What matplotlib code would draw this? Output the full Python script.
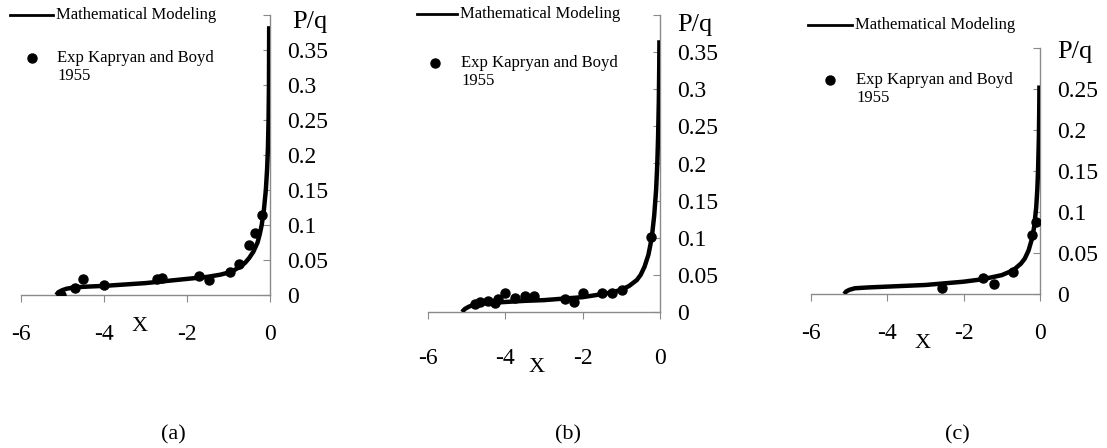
import matplotlib.pyplot as plt

# model curves
xa = [-5.15, -5.1, -5.0, -4.9, -4.7, -4.4, -4.0, -3.5, -3.0, -2.5, -2.0, -1.5, -1.2, -1.0,
      -0.85, -0.7, -0.6, -0.5, -0.4, -0.3, -0.25, -0.2, -0.15, -0.1, -0.07, -0.05, -0.035,
      -0.025, -0.02]
ya = [0.0, 0.004, 0.007, 0.009, 0.011, 0.012, 0.013, 0.015, 0.017, 0.020, 0.023, 0.026, 0.029,
      0.032, 0.036, 0.041, 0.046, 0.053, 0.062, 0.075, 0.086, 0.100, 0.120, 0.150, 0.180, 0.210,
      0.250, 0.300, 0.384]
xb = [-5.12, -5.05, -4.95, -4.8, -4.5, -4.0, -3.5, -3.0, -2.5, -2.0, -1.5, -1.2, -1.0, -0.8,
      -0.6, -0.5, -0.4, -0.3, -0.25, -0.2, -0.15, -0.1, -0.07, -0.05, -0.03, -0.02, -0.015]
yb = [0.0, 0.004, 0.007, 0.010, 0.012, 0.0135, 0.015, 0.016, 0.018, 0.020, 0.024, 0.027, 0.030,
      0.035, 0.043, 0.050, 0.061, 0.077, 0.090, 0.106, 0.130, 0.165, 0.200, 0.235, 0.285, 0.330,
      0.366]
xc = [-5.13, -5.08, -5.0, -4.85, -4.5, -4.0, -3.0, -2.0, -1.5, -1.0, -0.7, -0.5, -0.4, -0.3,
      -0.2, -0.15, -0.1, -0.07, -0.05, -0.03, -0.02, -0.015]
yc = [0.0, 0.003, 0.005, 0.007, 0.008, 0.009, 0.011, 0.015, 0.018, 0.023, 0.029, 0.037, 0.043,
      0.053, 0.069, 0.083, 0.105, 0.128, 0.152, 0.190, 0.225, 0.254]

# Kapryan and Boyd 1955 points
ea_x = [-5.04, -4.70, -4.5, -4.0, -2.73, -2.6, -1.71, -1.47, -0.96, -0.74, -0.5, -0.36, -0.19]
ea_y = [0.0, 0.010, 0.023, 0.014, 0.023, 0.025, 0.027, 0.022, 0.033, 0.044, 0.071, 0.089, 0.115]
eb_x = [-4.78, -4.65, -4.44, -4.26, -4.18, -4.0, -3.75, -3.49, -3.25, -2.45, -2.22, -1.98,
        -1.51, -1.23, -0.97, -0.23]
eb_y = [0.011, 0.014, 0.015, 0.0125, 0.018, 0.025, 0.019, 0.022, 0.022, 0.0175, 0.014, 0.025,
        0.025, 0.026, 0.030, 0.101]
ec_x = [-2.57, -1.5, -1.2, -0.72, -0.21, -0.1]
ec_y = [0.007, 0.020, 0.012, 0.027, 0.072, 0.088]

xticks = [-6, -4, -2, 0]
yticks_a = [0, 0.05, 0.1, 0.15, 0.2, 0.25, 0.3, 0.35, 0.4]
yticks_c = [0, 0.05, 0.1, 0.15, 0.2, 0.25, 0.3]

plt.rcParams['font.family'] = ['Liberation Serif', 'DejaVu Serif']

fig = plt.figure(figsize=(11.07, 4.48), dpi=100)
W, H = 1107, 448

panels = [
    # axes box in pixels: left, right, y of zero, y of top
    dict(box=(21, 270, 295, 15), x=xa, y=ya, ex=ea_x, ey=ea_y, ymax=0.4, yt=yticks_a, xpad=16,
         leg_line=(10, 53, 15), leg_dot=(32, 58), pq=(310, 22), xl=(140, 326), tag=(173, 435), tag_t='(a)'),
    dict(box=(428, 660, 312, 15), x=xb, y=yb, ex=eb_x, ey=eb_y, ymax=0.4, yt=yticks_a, xpad=21,
         leg_line=(417, 457, 14), leg_dot=(435, 63), pq=(695, 25), xl=(537, 367), tag=(568, 435), tag_t='(b)'),
    dict(box=(811, 1040, 294, 47.7), x=xc, y=yc, ex=ec_x, ey=ec_y, ymax=0.3, yt=yticks_c, xpad=16,
         leg_line=(808, 852, 25), leg_dot=(830, 80), pq=(1075, 52), xl=(923, 343), tag=(957, 435), tag_t='(c)'),
]

for p in panels:
    l, r, b, t = p['box']
    ax = fig.add_axes([l / W, (H - b) / H, (r - l) / W, (b - t) / H])
    ax.plot(p['x'], p['y'], color='black', lw=3.2, solid_capstyle='butt', zorder=3)
    ax.plot(p['ex'], p['ey'], 'o', color='black', ms=6.5, zorder=4)
    ax.set_xlim(-6, 0)
    ax.set_ylim(0, p['ymax'])
    for s in ['left', 'top']:
        ax.spines[s].set_visible(False)
    for s in ['right', 'bottom']:
        ax.spines[s].set_color('#8a8a8a')
        ax.spines[s].set_linewidth(1.0)
    ax.set_xticks(xticks)
    ax.set_xticklabels([str(v) for v in xticks])
    ax.yaxis.tick_right()
    ax.set_yticks(p['yt'])
    ax.set_yticklabels(['0' if v == 0 else ('%g' % v) for v in p['yt'][:-1]] + [''])
    ax.tick_params(axis='y', direction='in', length=5, color='#8a8a8a', labelsize=17, pad=12)
    ax.tick_params(axis='x', direction='out', length=5, color='#8a8a8a', labelsize=17, pad=p['xpad'])
    ax.patch.set_alpha(0)

    # legend drawn as figure items
    x0, x1, yl = p['leg_line']
    fig.add_artist(plt.Line2D([x0 / W, x1 / W], [(H - yl) / H] * 2, color='black', lw=2))
    fig.text((x1 + 3) / W, (H - yl) / H, 'Mathematical Modeling', fontsize=12,
             va='center', ha='left')
    dx, dy = p['leg_dot']
    fig.add_artist(plt.Line2D([dx / W], [(H - dy) / H], marker='o', color='black', ms=6.5))
    fig.text((x1 + 4) / W, (H - dy + 8) / H, 'Exp Kapryan and Boyd\n1955', fontsize=12,
             va='top', ha='left', linespacing=1.2)

    fig.text(p['pq'][0] / W, (H - p['pq'][1]) / H, 'P/q', fontsize=19, ha='center', va='center')
    fig.text(p['xl'][0] / W, (H - p['xl'][1]) / H, 'X', fontsize=16, ha='center', va='center')
    fig.text(p['tag'][0] / W, (H - p['tag'][1]) / H, p['tag_t'], fontsize=16, ha='center', va='center')

# panel (a) is cropped just under its tick labels in the source figure
fig.add_artist(plt.Rectangle((0, (H - 360) / H), 330 / W, 20 / H, transform=fig.transFigure,
                             color='white', zorder=10))

fig.savefig('out.png', dpi=100)
